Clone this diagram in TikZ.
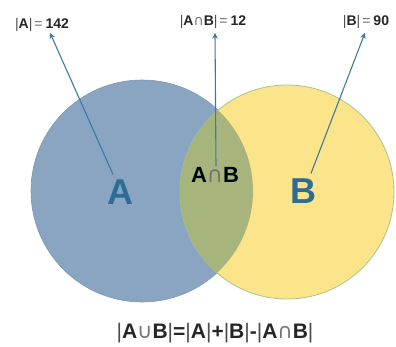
\documentclass[tikz,border=0pt]{standalone}
\usepackage{fontspec}
\setmainfont{Liberation Sans}
\newfontfamily\symfont{DejaVu Sans}
\usepackage{tikz}
\usetikzlibrary{arrows.meta, positioning}

\definecolor{setA}{HTML}{89A5C2}
\definecolor{setB}{HTML}{FCE48A}
\definecolor{setAB}{HTML}{A7B57C}
\definecolor{edgeB}{HTML}{A8C48E}
\definecolor{arrowblue}{HTML}{3F7A9E}
\definecolor{letterblue}{HTML}{2F6C94}

\newcommand{\vb}{{\mdseries\color{black!70}|}}
\newcommand{\capsym}{{\mdseries\symfont\color{black!55}\char"2229}}
\newcommand{\cupsym}{{\mdseries\symfont\color{black!55}\char"222A}}
\newcommand{\eqsym}{\hspace{2pt}{\mdseries\color{black!60}=}\hspace{3pt}}

\tikzset{
  pointer/.style={draw=arrowblue, line width=1.1pt, -{Stealth[length=6pt,width=5.5pt]}},
  card/.style={font=\fontsize{14}{16}\selectfont\bfseries, text=black!85, inner sep=1pt},
  bigletter/.style={font=\fontsize{36}{40}\selectfont\bfseries, text=letterblue, inner sep=1pt}
}

\begin{document}
\begin{tikzpicture}[x=1pt, y=-1pt]
        \useasboundingbox (0,0) rectangle (396,347);

        % Circles
        \fill[setA, draw=setA!92!black, line width=0.6pt] (142,191) circle (111);
        \fill[setB, draw=edgeB, line width=0.8pt] (287,192) circle (107);

        % Overlap
        \begin{scope}
          \clip (142,191) circle (111);
          \fill[setAB] (287,192) circle (107);
        \end{scope}

        % Set labels
        \node[bigletter] (labA) at (120,192) {A};
        \node[bigletter] (labB) at (303,191) {B};
        \node[font=\fontsize{22}{24}\selectfont\bfseries, inner sep=1pt] (labAB) at (215,175) {A\capsym B};

        % Cardinalities
        \node[card] (cardA) at (42,25) {\vb A\vb\eqsym 142};
        \node[card] (cardAB) at (213,22) {\vb A\capsym B\vb\eqsym 12};
        \node[card] (cardB) at (366,22) {\vb B\vb\eqsym 90};

        % Pointers
        \draw[pointer] (labA.north) ++(-7,-4) -- ([xshift=8pt]cardA.south);
        \draw[pointer] ([xshift=1pt]labAB.north) -- ([xshift=2pt,yshift=-3pt]cardAB.south);
        \draw[pointer] (labB.north) ++(8,-4) -- ([xshift=-1pt,yshift=-3pt]cardB.south);

        % Formula
        \node[font=\fontsize{21}{24}\selectfont\bfseries, text=black!85] (rule) at (215,333)
          {\vb A\cupsym B\vb=\vb A\vb+\vb B\vb-\vb A\capsym B\vb};
      \end{tikzpicture}
\end{document}
